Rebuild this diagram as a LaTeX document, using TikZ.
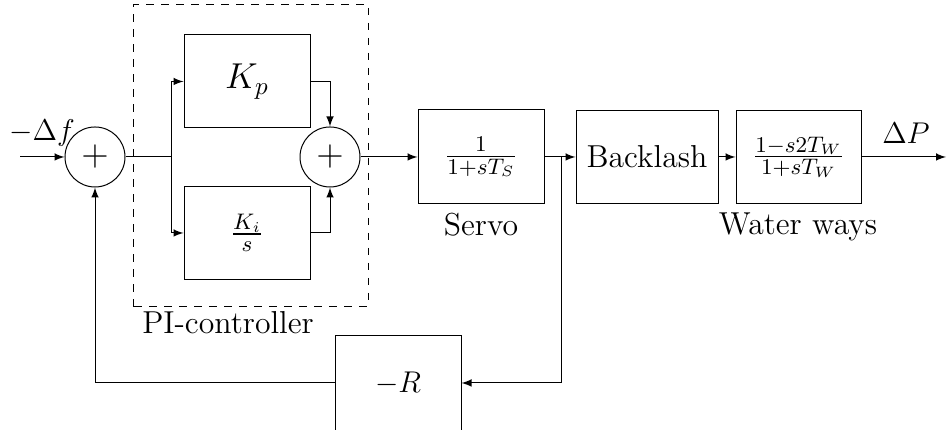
\documentclass[tikz,border=0pt]{standalone}
\usepackage{amsmath}
\usetikzlibrary{arrows.meta,positioning}

\begin{document}
\begin{tikzpicture}[x=0.4pt,y=0.4pt,font=\fontsize{12.7}{15}\selectfont,>=latex,
    block/.style={draw,minimum height=37.2pt},
    sumnode/.style={circle,draw,minimum size=24pt,inner sep=0pt,font=\Large}]
  \useasboundingbox (0,0) rectangle (947,430);
  % forward path
  \node[sumnode] (sum1) at (95,273) {$+$};
  \node[block,minimum width=50.4pt,font=\Large] (kp) at (247,348.5) {$K_p$};
  \node[block,minimum width=50.4pt] (ki) at (247,197) {$\frac{K_i}{s}$};
  \node[sumnode] (sum2) at (330,273) {$+$};
  \node[block,minimum width=50.4pt,minimum height=37.6pt] (servo) at (481,273) {$\frac{1}{1+sT_S}$};
  \node[block,minimum width=56.8pt] (back) at (647,273) {Backlash};
  \node[block,minimum width=50pt] (water) at (798.5,273) {$\frac{1-s2T_W}{1+sT_W}$};
  \node[block,minimum width=50.4pt,minimum height=38.8pt] (droop) at (398,46) {$-R$};
  % labels
  \node (df) at (42,297) {$-\Delta f$};
  \node (dp) at (906,297) {$\Delta P$};
  \node (servolab) at (481,205) {Servo};
  \node (waterlab) at (798,203) {Water ways};
  \node (pilab) at (228,107) {PI-controller};
  \draw[dashed] (133,123) rectangle (368,425);
  % coordinates
  \coordinate (in) at (20,273);
  \coordinate (out) at (946,273);
  \coordinate (b1) at (171,273);
  \coordinate (b2) at (561,273);
  \coordinate (fb) at (561,47);
  % connectors
  \draw[->] (in) -- (sum1);
  \draw (sum1) -- (b1);
  \draw[->] (b1) |- (kp.west);
  \draw[->] (b1) |- (ki.west);
  \draw[->] (kp.east) -| (sum2.north);
  \draw[->] (ki.east) -| (sum2.south);
  \draw[->] (sum2) -- (servo);
  \draw[->] (servo) -- (back);
  \draw[->] (back) -- (water);
  \draw[->] (water) -- (out);
  \draw[->] (b2) -- (fb) -- (droop.east |- fb);
  \draw[->] (droop.west |- fb) -| (sum1.south);
\end{tikzpicture}
\end{document}
